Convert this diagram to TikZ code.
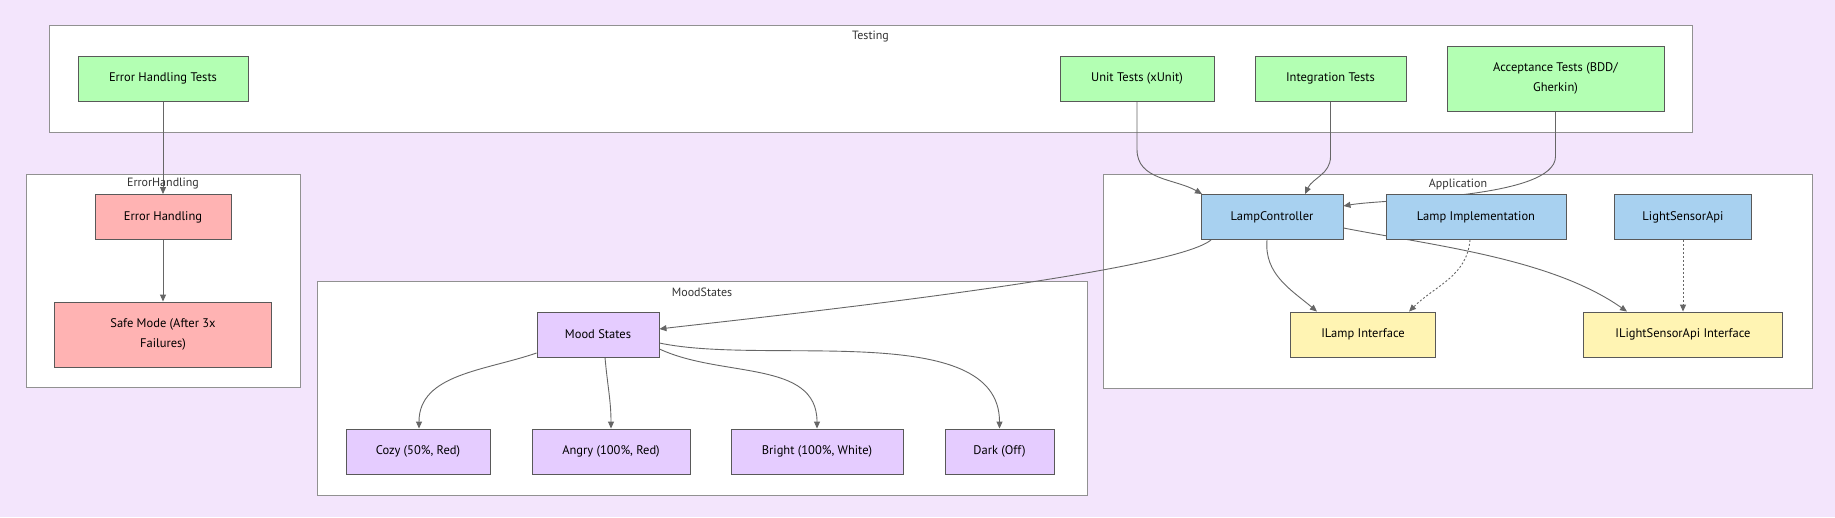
\documentclass[tikz,border=0pt]{standalone}
\usepackage{fontspec}
\setmainfont{PT Sans}
\usetikzlibrary{arrows.meta}
\definecolor{bgpurple}{HTML}{F3E5FC}
\definecolor{clborder}{HTML}{919191}
\definecolor{lgreen}{HTML}{B3FFB3}
\definecolor{lred}{HTML}{FFB3B3}
\definecolor{lblue}{HTML}{A8D1F0}
\definecolor{lyellow}{HTML}{FFF4B3}
\definecolor{lpurple}{HTML}{E5CCFF}
\definecolor{edgegray}{HTML}{666666}
\pgfdeclarelayer{canvas}
\pgfdeclarelayer{clusters}
\pgfdeclarelayer{edges}
\pgfsetlayers{canvas,clusters,edges,main}
\tikzset{
	box/.style={draw=black!65, line width=0.9pt, minimum height=45pt, inner sep=2pt,
		font=\fontsize{12.5}{20}\selectfont, align=center},
	testbox/.style={box, fill=lgreen},
	errbox/.style={box, fill=lred},
	appbox/.style={box, fill=lblue},
	ifbox/.style={box, fill=lyellow},
	moodbox/.style={box, fill=lpurple},
	cluster/.style={draw=clborder, fill=white, line width=1pt},
	clabel/.style={font=\fontsize{12}{14}\selectfont, text=black!80},
	edge/.style={draw=edgegray, line width=0.9pt, -{Triangle[length=7pt,width=6pt]}},
	dotedge/.style={edge, dash pattern=on 2pt off 2pt},
}

\begin{document}
\begin{tikzpicture}[x=1pt, y=-1pt]
			\begin{pgfonlayer}{canvas}
			\fill[bgpurple] (0,0) rectangle (1835,517);
			\end{pgfonlayer}
			\useasboundingbox (0,0) rectangle (1835,517);
			%
			\begin{pgfonlayer}{clusters}
			\draw[cluster]	(49, 25)	rectangle (1692, 132);
			\draw[cluster]	(26, 174)	rectangle (300, 387);
			\draw[cluster]	(1103, 174)	rectangle (1812, 388);
			\draw[cluster]	(317, 281)	rectangle (1087, 495);
			\end{pgfonlayer}
			\node[clabel] (testing)	at	(870.5, 37)	{Testing};
			\node[clabel] (errgroup)	at	(163, 184)	{ErrorHandling};
			\node[clabel] (appgroup)	at	(1458, 184)	{Application};
			\node[clabel] (moodgroup)	at	(702, 292)	{MoodStates};
			%
			\node[testbox, minimum width=170pt] (errtests)	at	(163, 78.5)	{Error Handling Tests};
			\node[testbox, minimum width=154pt] (unittests)	at	(1137, 78.5)	{Unit Tests (xUnit)};
			\node[testbox, minimum width=151pt] (inttests)	at	(1330.5, 78.5)	{Integration Tests};
			\node[testbox, minimum width=217pt, minimum height=65pt] (acctests)	at	(1555.5, 78.5)	{Acceptance Tests (BDD/\\Gherkin)};
			%
			\node[errbox, minimum width=136pt] (errhandling)	at	(163, 217)	{Error Handling};
			\node[errbox, minimum width=217pt, minimum height=65pt] (safemode)	at	(163, 334.5)	{Safe Mode (After 3x\\Failures)};
			%
			\node[appbox, minimum width=142pt] (lampctrl)	at	(1272, 217)	{LampController};
			\node[appbox, minimum width=180pt] (lampimpl)	at	(1476, 217)	{Lamp Implementation};
			\node[appbox, minimum width=137pt] (sensorapi)	at	(1683, 217)	{LightSensorApi};
			\node[ifbox, minimum width=145pt] (ilamp)	at	(1363, 334.5)	{ILamp Interface};
			\node[ifbox, minimum width=199pt] (isensor)	at	(1683, 334.5)	{ILightSensorApi Interface};
			%
			\node[moodbox, minimum width=122pt] (mood)	at	(598, 334.5)	{Mood States};
			\node[moodbox, minimum width=144pt] (cozy)	at	(418, 451.5)	{Cozy (50\%, Red)};
			\node[moodbox, minimum width=158pt] (angry)	at	(611, 451.5)	{Angry (100\%, Red)};
			\node[moodbox, minimum width=172pt] (bright)	at	(817, 451.5)	{Bright (100\%, White)};
			\node[moodbox, minimum width=109pt] (dark)	at	(999.5, 451.5)	{Dark (Off)};
			%
			\begin{pgfonlayer}{edges}
			\draw[edge] (errtests) -- (errhandling);
			\draw[edge] (errhandling) -- (safemode);
			\draw[edge] (unittests.south) -- ++(0, 48) to[out=-90, in=150] ([xshift=-70pt]lampctrl.north);
			\draw[edge] (inttests.south) -- ++(0, 55) to[out=-90, in=65] ([xshift=33pt]lampctrl.north);
			\draw[edge] (acctests.south) -- ++(0, 45) to[out=-90, in=10, looseness=0.5] ([yshift=11pt]lampctrl.east);
			\draw[edge] ([xshift=-61pt]lampctrl.south) to[out=-140, in=7, looseness=0.25] ([yshift=5.5pt]mood.east);
			\draw[edge] ([xshift=-5pt]lampctrl.south) to[out=-95, in=140] ([xshift=-46pt]ilamp.north);
			\draw[edge] ([yshift=-11pt]lampctrl.east) to[out=-11, in=145, looseness=0.8] ([xshift=-56pt]isensor.north);
			\draw[dotedge] ([xshift=-6pt]lampimpl.south) to[out=-95, in=45] ([xshift=46pt]ilamp.north);
			\draw[dotedge] (sensorapi) -- (isensor);
			\draw[edge] ([yshift=-18.5pt]mood.west) to[out=-161, in=90] ([xshift=1pt]cozy.north);
			\draw[edge] ([xshift=7pt]mood.south) to[out=-85, in=90] (angry.north);
			\draw[edge] ([yshift=-14.5pt]mood.east) to[out=-25, in=90] (bright.north);
			\draw[edge] ([yshift=-8.5pt]mood.east) to[out=-12, in=90, looseness=0.8] (dark.north);
			\end{pgfonlayer}
		\end{tikzpicture}
\end{document}
